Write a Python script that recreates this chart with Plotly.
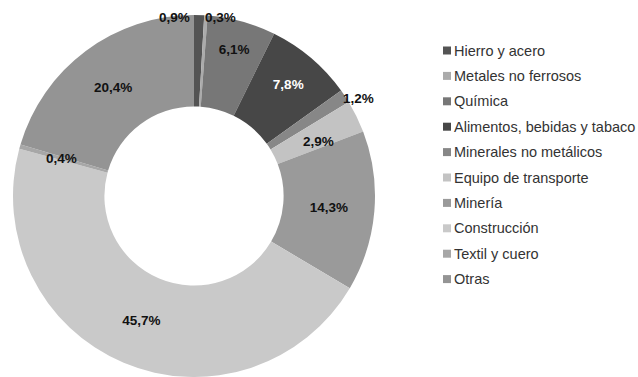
import plotly.graph_objects as go

# Sector shares (%), listed clockwise from 12 o'clock
sectors = [
    "Hierro y acero",
    "Metales no ferrosos",
    "Química",
    "Alimentos, bebidas y tabaco",
    "Minerales no metálicos",
    "Equipo de transporte",
    "Minería",
    "Construcción",
    "Textil y cuero",
    "Otras",
]
shares = [0.9, 0.3, 6.1, 7.8, 1.2, 2.9, 14.3, 45.7, 0.4, 20.4]
colors = [
    "#545454", "#ababab", "#777777", "#474747", "#878787",
    "#c3c3c3", "#9a9a9a", "#c9c9c9", "#a7a7a7", "#949494",
]
label_colors = ["#111111"] * len(sectors)
label_colors[3] = "#ffffff"

# Value labels of the narrow slices, placed by hand: pixel offset from centre, anchor
placed_labels = {
    0: (-2, -179, "right"),
    1: (9, -179, "left"),
    4: (164, -98, "center"),
    5: (124, -55, "center"),
    8: (-133, -38, "center"),
}

W, H = 638, 377
CX, CY, R = 194, 196, 181  # pie centre and radius in pixels
HOLE = 0.495
FONT = "Liberation Sans, Arial, sans-serif"


def fmt(v):
    return f"{v:.1f}".replace(".", ",") + "%"


texts = ["" if i in placed_labels else fmt(v) for i, v in enumerate(shares)]
dom_y0 = max(0.0, (H - CY - R) / H)
dom_y1 = min(1.0, (H - CY + R) / H)

fig = go.Figure(
    go.Pie(
        labels=sectors,
        values=shares,
        sort=False,
        direction="clockwise",
        rotation=0,
        hole=HOLE,
        marker=dict(colors=colors, line=dict(width=0)),
        text=texts,
        textinfo="text",
        textposition="inside",
        insidetextorientation="horizontal",
        texttemplate="<b>%{text}</b>",
        textfont=dict(family=FONT, size=13.5, color=label_colors),
        domain=dict(x=[(CX - R) / W, (CX + R) / W], y=[dom_y0, dom_y1]),
        showlegend=False,
        hoverinfo="label+percent",
    )
)

annotations = []
for i, (dx, dy, anchor) in placed_labels.items():
    annotations.append(
        dict(
            x=(CX + dx) / W, y=1 - (CY + dy) / H, xref="paper", yref="paper",
            text=f"<b>{fmt(shares[i])}</b>", showarrow=False, xanchor=anchor, yanchor="middle",
            font=dict(family=FONT, size=13.5, color=label_colors[i]),
        )
    )

# Legend: one square swatch and label per sector
shapes = []
LX, LY0, LSTEP, SQ = 443, 50.5, 25.4, 8
for i, (name, col) in enumerate(zip(sectors, colors)):
    y = LY0 + i * LSTEP
    shapes.append(
        dict(
            type="rect", xref="paper", yref="paper",
            x0=LX / W, x1=(LX + SQ) / W, y0=1 - (y + SQ / 2) / H, y1=1 - (y - SQ / 2) / H,
            fillcolor=col, line=dict(width=0),
        )
    )
    annotations.append(
        dict(
            x=(LX + SQ + 1) / W, y=1 - y / H, xref="paper", yref="paper",
            text=name, showarrow=False, xanchor="left", yanchor="middle",
            font=dict(family=FONT, size=14.5, color="#333333"),
        )
    )

fig.update_layout(
    width=W, height=H,
    margin=dict(l=0, r=0, t=0, b=0),
    paper_bgcolor="white", plot_bgcolor="white",
    uniformtext=dict(minsize=13.5, mode="show"),
    annotations=annotations, shapes=shapes,
)

fig.write_html("out.html")
